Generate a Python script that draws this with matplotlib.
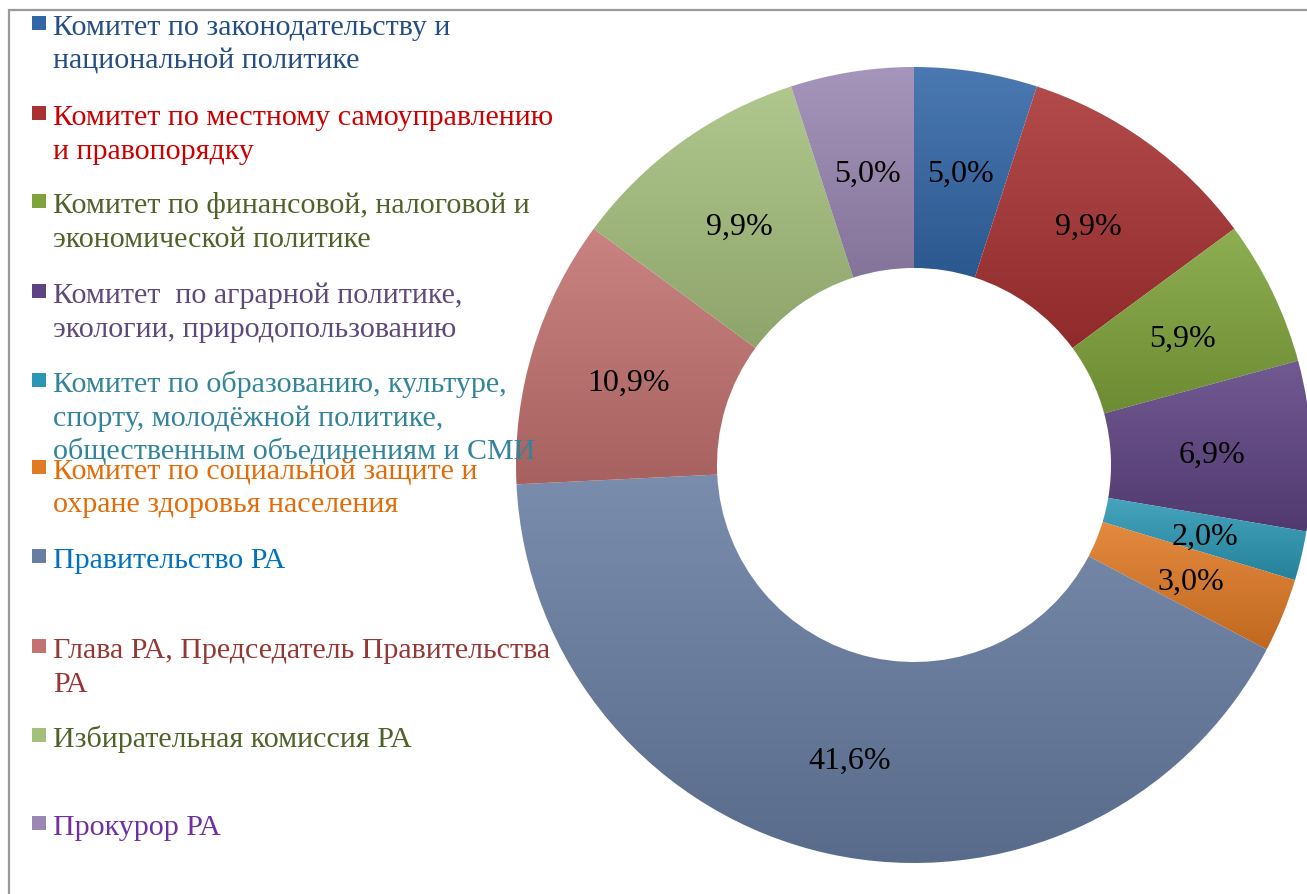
import matplotlib
matplotlib.use("Agg")
import matplotlib.pyplot as plt
import matplotlib.colors as mcolors
from matplotlib.patches import Rectangle
import numpy as np

plt.rcParams['font.family'] = ['Liberation Serif', 'DejaVu Serif']

# data
categories = [
    "Комитет по законодательству и\nнациональной политике",
    "Комитет по местному самоуправлению\nи правопорядку",
    "Комитет по финансовой, налоговой и\nэкономической политике",
    "Комитет  по аграрной политике,\nэкологии, природопользованию",
    "Комитет по образованию, культуре,\nспорту, молодёжной политике,\nобщественным объединениям и СМИ",
    "Комитет по социальной защите и\nохране здоровья населения",
    "Правительство РА",
    "Глава РА, Председатель Правительства\nРА",
    "Избирательная комиссия РА",
    "Прокурор РА",
]
shares = [5.0, 9.9, 5.9, 6.9, 2.0, 3.0, 41.6, 10.9, 9.9, 5.0]
pct_labels = ["5,0%", "9,9%", "5,9%", "6,9%", "2,0%", "3,0%", "41,6%", "10,9%", "9,9%", "5,0%"]

wedge_colors = ['#3266A6', '#A83232', '#7FA33B', '#5E4382', '#2C97B4',
                '#E07A25', '#687DA2', '#C27270', '#A5BF7D', '#9A87B2']
text_colors = ['#244E84', '#CC0000', '#4F6228', '#5F497A', '#31849B',
               '#E36C09', '#0070C0', '#953735', '#4F6228', '#7030A0']


def shade(c, f):
    c = np.array(mcolors.to_rgb(c))
    if f > 0:
        return c + (1 - c) * f
    return c * (1 + f)


W, H = 1307, 895
fig = plt.figure(figsize=(W / 100, H / 100), dpi=100)

# donut axes, centre at (914, 466) px, radius 398 px
cx, cy, r = 914, 466, 398
ax = fig.add_axes([(cx - r) / W, (H - cy - r) / H, 2 * r / W, 2 * r / H])
wedges, _ = ax.pie(shares, colors=wedge_colors, startangle=90, counterclock=False,
                   radius=1.0, wedgeprops=dict(width=0.505, linewidth=0))

# excel-like vertical gradient inside each wedge
for w, c in zip(wedges, wedge_colors):
    ext = w.get_path().get_extents()
    top, bot = shade(c, 0.12), shade(c, -0.14)
    t = np.linspace(0, 1, 64)[:, None, None]
    grad = top * (1 - t) + bot * t
    im = ax.imshow(grad, extent=[ext.x0, ext.x1, ext.y0, ext.y1], origin='upper',
                   aspect='auto', interpolation='bilinear', zorder=1)
    im.set_clip_path(w)
    w.set_facecolor('none')

ang = 90.0
tot = sum(shares)
for v, lab in zip(shares, pct_labels):
    mid = np.deg2rad(ang - 360 * v / tot / 2)
    ang -= 360 * v / tot
    rr = 0.75
    ax.text(rr * np.cos(mid), rr * np.sin(mid), lab, ha='center', va='center_baseline',
            fontsize=23, color='black', zorder=3)
ax.set_xlim(-1, 1)
ax.set_ylim(-1, 1)
ax.set_aspect('equal')
ax.axis('off')

# legend and frame in pixel coordinates (drawn above the donut, like the original)
lg = fig.add_axes([0, 0, 1, 1], zorder=2)
lg.set_xlim(0, W)
lg.set_ylim(H, 0)
lg.axis('off')
lg.patch.set_alpha(0)
lg.plot([8.5, 8.5, W], [H, 11, 11], color='#9a9a9a', lw=1.6, solid_joinstyle='miter')

baselines = [35, 125, 213, 303, 392, 479, 568, 658, 747, 835]
for y, lab, tc, wc in zip(baselines, categories, text_colors, wedge_colors):
    lg.add_patch(Rectangle((32, y - 18), 14, 14, color=wc, lw=0))
    for i, line in enumerate(lab.split("\n")):
        lg.text(53, y + i * 33.5, line, color=tc, fontsize=21.6, va='baseline', ha='left')

fig.savefig("out.png", dpi=100)
